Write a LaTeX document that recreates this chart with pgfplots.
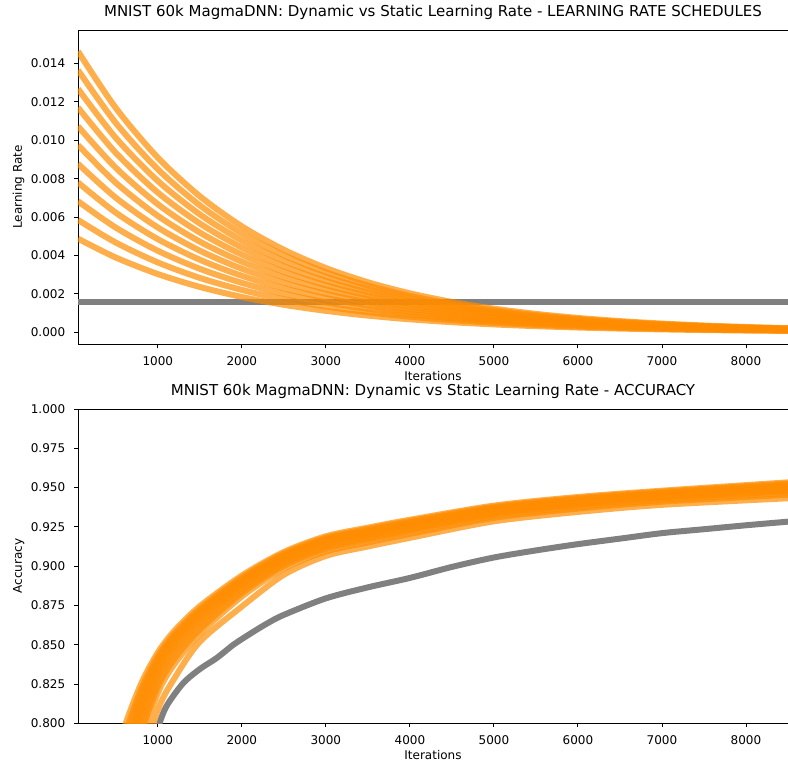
\documentclass[border=0pt]{standalone}
\usepackage{fontspec}
\setmainfont{DejaVu Sans}
\usepackage{pgfplots}
\usepackage{pgfplotstable}
\pgfplotsset{compat=1.18}
\definecolor{dorange}{RGB}{255,140,0}
\definecolor{mgray}{RGB}{128,128,128}

\pgfplotstableread{
t s15 s14 s13 s12 s11 s10 s9 s8 s7 s6 s5
50 0.014630 0.013654 0.012679 0.011704 0.010728 0.009753 0.008778 0.007803 0.006827 0.005852 0.004877
500 0.011682 0.010903 0.010124 0.009346 0.008567 0.007788 0.007009 0.006230 0.005452 0.004673 0.003894
1000 0.009098 0.008491 0.007885 0.007278 0.006672 0.006065 0.005459 0.004852 0.004246 0.003639 0.003033
1500 0.007086 0.006613 0.006141 0.005668 0.005196 0.004724 0.004251 0.003779 0.003307 0.002834 0.002362
2000 0.005518 0.005150 0.004782 0.004415 0.004047 0.003679 0.003311 0.002943 0.002575 0.002207 0.001839
2500 0.004298 0.004011 0.003725 0.003438 0.003152 0.002865 0.002579 0.002292 0.002006 0.001719 0.001433
3000 0.003347 0.003124 0.002901 0.002678 0.002454 0.002231 0.002008 0.001785 0.001562 0.001339 0.001116
3500 0.002607 0.002433 0.002259 0.002085 0.001912 0.001738 0.001564 0.001390 0.001216 0.001043 0.000869
4000 0.002030 0.001895 0.001759 0.001624 0.001489 0.001353 0.001218 0.001083 0.000947 0.000812 0.000677
4500 0.001581 0.001476 0.001370 0.001265 0.001159 0.001054 0.000949 0.000843 0.000738 0.000632 0.000527
5000 0.001231 0.001149 0.001067 0.000985 0.000903 0.000821 0.000739 0.000657 0.000575 0.000493 0.000410
5500 0.000959 0.000895 0.000831 0.000767 0.000703 0.000639 0.000575 0.000511 0.000448 0.000384 0.000320
6000 0.000747 0.000697 0.000647 0.000597 0.000548 0.000498 0.000448 0.000398 0.000349 0.000299 0.000249
6500 0.000582 0.000543 0.000504 0.000465 0.000427 0.000388 0.000349 0.000310 0.000271 0.000233 0.000194
7000 0.000453 0.000423 0.000393 0.000362 0.000332 0.000302 0.000272 0.000242 0.000211 0.000181 0.000151
7500 0.000353 0.000329 0.000306 0.000282 0.000259 0.000235 0.000212 0.000188 0.000165 0.000141 0.000118
8000 0.000275 0.000256 0.000238 0.000220 0.000202 0.000183 0.000165 0.000147 0.000128 0.000110 0.000092
8500 0.000214 0.000200 0.000185 0.000171 0.000157 0.000143 0.000128 0.000114 0.000100 0.000086 0.000071
}\lrtable

\pgfplotstableread{
t lr
50 0.0016
8500 0.0016
}\lrstatic

\pgfplotstableread{
t c1 c2 c3 c4 c5 c6 c7 c8 c9 c10 c11
400 0.7600 0.7502 0.7404 0.7306 0.7208 0.7096 0.6970 0.6830 0.6676 0.6508 0.6000
600 0.7970 0.7909 0.7848 0.7787 0.7726 0.7657 0.7579 0.7492 0.7396 0.7291 0.7000
800 0.8250 0.8215 0.8180 0.8145 0.8110 0.8070 0.8025 0.7975 0.7920 0.7860 0.7700
1000 0.8450 0.8427 0.8404 0.8381 0.8358 0.8331 0.8302 0.8269 0.8232 0.8193 0.8085
1200 0.8590 0.8571 0.8552 0.8533 0.8514 0.8493 0.8469 0.8442 0.8412 0.8379 0.8288
1500 0.8745 0.8729 0.8714 0.8698 0.8682 0.8664 0.8644 0.8621 0.8597 0.8570 0.8519
2000 0.8940 0.8928 0.8916 0.8904 0.8892 0.8879 0.8864 0.8847 0.8828 0.8807 0.8743
2500 0.9090 0.9081 0.9071 0.9062 0.9052 0.9041 0.9029 0.9016 0.9001 0.8985 0.8945
3000 0.9190 0.9181 0.9173 0.9164 0.9155 0.9145 0.9134 0.9121 0.9108 0.9093 0.9065
3500 0.9245 0.9237 0.9228 0.9220 0.9211 0.9202 0.9191 0.9179 0.9166 0.9151 0.9125
4000 0.9295 0.9287 0.9279 0.9271 0.9263 0.9254 0.9243 0.9232 0.9219 0.9205 0.9180
5000 0.9385 0.9378 0.9371 0.9364 0.9357 0.9349 0.9340 0.9330 0.9319 0.9307 0.9285
6000 0.9440 0.9433 0.9427 0.9420 0.9413 0.9406 0.9397 0.9388 0.9377 0.9366 0.9345
7000 0.9480 0.9474 0.9467 0.9461 0.9455 0.9448 0.9440 0.9431 0.9421 0.9410 0.9390
8500 0.9533 0.9526 0.9519 0.9512 0.9505 0.9497 0.9488 0.9477 0.9466 0.9454 0.9432
}\acctable

\pgfplotstableread{
t acc
850 0.775
1000 0.797
1100 0.8106
1300 0.8254
1500 0.8345
1700 0.8415
1900 0.8500
2100 0.8570
2300 0.8635
2500 0.8690
3000 0.8795
3500 0.8865
4000 0.8925
4500 0.8995
5000 0.9055
5500 0.9100
6000 0.9140
6500 0.9175
7000 0.9210
7500 0.9235
8000 0.9260
8500 0.9283
}\accstatic

\pgfplotsset{
  mystyle/.style={
    width=710pt, height=314.3pt, scale only axis,
    xmin=50, xmax=8500,
    axis x line*=box, axis y line*=left,
    axis line style={-, black, line width=0.9pt},
    every outer x axis line/.append style={-},
    every outer y axis line/.append style={-},
    tick align=outside, xtick pos=left, ytick pos=left,
    major tick length=4.2pt,
    every tick/.style={black, line width=0.9pt},
    xtick={1000,2000,3000,4000,5000,6000,7000,8000},
    scaled x ticks=false, scaled y ticks=false,
    /pgf/number format/assume math mode=true,
    /pgf/number format/1000 sep={},
    tick label style={font=\fontsize{12}{14}\selectfont, inner sep=0pt, text=black},
    xticklabel style={anchor=base, yshift=-17.2pt},
    yticklabel style={anchor=east, xshift=-8.4pt},
    yticklabel={\pgfmathprintnumber[fixed, fixed zerofill, precision=3]{\tick}},
    label style={font=\fontsize{12}{14}\selectfont},
    xlabel={Iterations},
    xlabel style={at={(axis description cs:0.5,0)}, anchor=base, yshift=-36.7pt, inner sep=0pt},
    ylabel style={at={(axis description cs:-0.0789,0.5)}, anchor=base, inner sep=0pt},
    title style={font=\fontsize{15}{18}\selectfont, at={(axis description cs:0.5,1)}, anchor=base, yshift=7.2pt, inner sep=0pt},
    orangeline/.style={draw=dorange, draw opacity=0.7, line width=6pt, no markers, smooth},
    grayline/.style={draw=mgray, line width=6pt, no markers, smooth},
  }
}

\begin{document}
\begin{tikzpicture}
\useasboundingbox (-78pt,-38.7pt) rectangle (710pt,723.3pt);
% top axis
\begin{axis}[mystyle, at={(0pt,379pt)}, anchor=south west,
  ymin=-0.000625, ymax=0.015745,
  ytick={0,0.002,0.004,0.006,0.008,0.010,0.012,0.014},
  ylabel={Learning Rate},
  title={MNIST 60k MagmaDNN: Dynamic vs Static Learning Rate - LEARNING RATE SCHEDULES}]
  \addplot[grayline] table[x=t, y=lr] {\lrstatic};
  \pgfplotsinvokeforeach{s15,s14,s13,s12,s11,s10,s9,s8,s7,s6,s5}{
    \addplot[orangeline] table[x=t, y=#1] {\lrtable};
  }
\end{axis}
% bottom axis
\begin{axis}[mystyle, at={(0pt,0pt)}, anchor=south west,
  ymin=0.8, ymax=1.0,
  ytick={0.8,0.825,0.85,0.875,0.9,0.925,0.95,0.975,1.0},
  ylabel={Accuracy},
  title={MNIST 60k MagmaDNN: Dynamic vs Static Learning Rate - ACCURACY}]
  \addplot[grayline] table[x=t, y=acc] {\accstatic};
  \pgfplotsinvokeforeach{c1,c2,c3,c4,c5,c6,c7,c8,c9,c10,c11}{
    \addplot[orangeline] table[x=t, y=#1] {\acctable};
  }
\end{axis}
\end{tikzpicture}
\end{document}
